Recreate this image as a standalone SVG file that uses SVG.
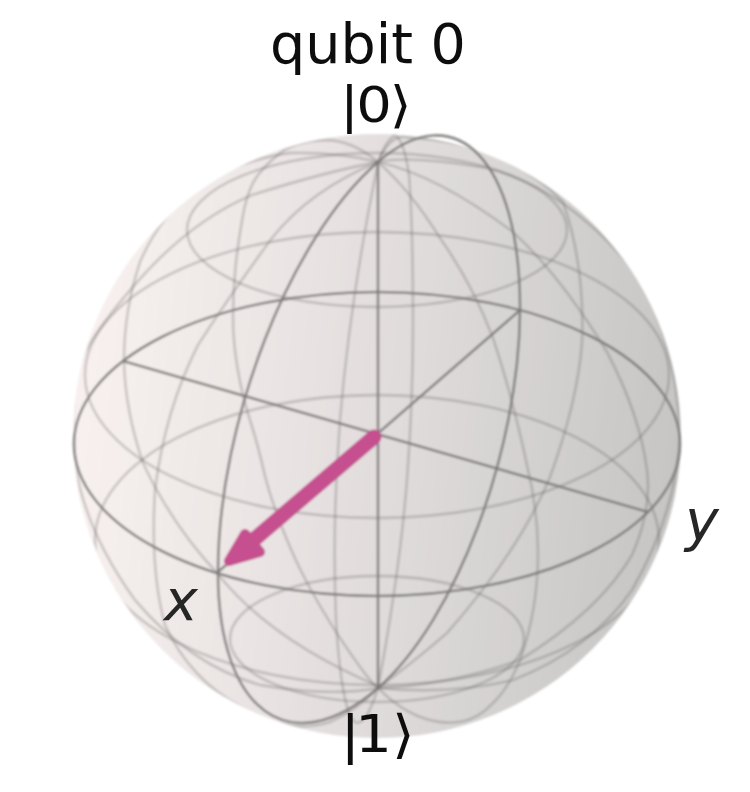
<svg xmlns="http://www.w3.org/2000/svg" width="750" height="792" viewBox="0 0 750 792">
<style>
.w{fill:none;stroke:#5c5a5a;stroke-opacity:.26;stroke-width:2.8}
.a{fill:none;stroke:#7b7978;stroke-opacity:.88;stroke-width:2.6}
.t{font-family:"DejaVu Sans",sans-serif;fill:#111}
.i{font-family:"DejaVu Sans",sans-serif;font-style:italic;font-size:57px;fill:#262626}
</style>
<defs>
<linearGradient id="shade" gradientUnits="userSpaceOnUse" x1="74" y1="400" x2="680" y2="470">
<stop offset="0" stop-color="#f8f1ef"/><stop offset=".35" stop-color="#e9e4e3"/><stop offset=".6" stop-color="#dcd9d8"/><stop offset="1" stop-color="#c6c5c3"/>
</linearGradient>
<clipPath id="ball"><ellipse cx="377" cy="436" rx="303" ry="302"/></clipPath>
<filter id="soft" x="-5%" y="-5%" width="110%" height="110%"><feGaussianBlur stdDeviation=".9"/></filter>
<filter id="softer" x="-5%" y="-5%" width="110%" height="110%"><feGaussianBlur stdDeviation=".6"/></filter>
</defs>
<rect width="750" height="792" fill="#fff"/>
<g id="sphere" filter="url(#soft)">
<ellipse cx="377" cy="436" rx="304" ry="302" fill="url(#shade)"/>
<g id="wireframe" clip-path="url(#ball)">
<ellipse class="w" cx="377" cy="230" rx="190" ry="77"/>
<ellipse class="w" cx="377" cy="375" rx="292" ry="143"/>
<ellipse class="w" cx="377" cy="540" rx="282" ry="145"/>
<ellipse class="w" cx="377" cy="639" rx="147" ry="63"/>
<path class="w" d="M378 162Q352 140 325 140Q298 141 283 151Q268 162 258 175Q248 188 243 215Q238 242 235.500 267Q233 292 233 317Q233 342 237.500 368Q242 395 250 420Q258 445 265 476Q273 507 290 547Q307 587 338 635Q370 683 378 688"/>
<path class="w" d="M378 688Q408 718 440 722Q470 726 490 706Q508 690 520 660Q538 610 538 553Q538 510 527 465Q512 395 493 338Q473 285 440 238Q410 190 378 162"/>
<path class="w" d="M378 162Q386 140 395 135Q404 140 409 175Q413 225 413 325Q413 400 407 480Q400 570 378 688"/>
<path class="w" d="M378 162Q350 300 340 420Q332 520 336 620Q340 690 350 716Q362 738 378 688"/>
<path class="w" d="M378 162Q338 152 290 153Q240 160 200 185Q160 215 140 262Q124 310 124 361Q125 410 143 463Q172 525 217 573Q270 640 378 686"/>
<path class="w" d="M378 162Q437 175 513 232Q560 275 607 352Q640 415 647 470Q652 510 632 555Q600 610 520 660Q450 685 378 688"/>
<path class="w" d="M378 162Q310 190 272 238Q230 295 198 345Q165 410 155 490Q150 570 165 625Q190 680 243 708Q290 735 330 722Q360 708 378 688"/>
<path class="w" d="M378 162Q390 135 405 137Q450 140 487 152Q535 172 563 202Q585 265 582 342Q578 400 550 477Q520 550 447 633Q410 665 378 688"/>
<path class="w" d="M378 162Q325 172 252 195Q188 222 132 288Q100 325 85 352Q68 400 76 470Q88 535 135 600Q190 665 260 685Q330 697 378 688"/>
<path class="w" d="M378 162Q410 155 487 168Q570 190 637 275Q675 340 680 430Q678 510 632 590Q590 650 513 680Q450 695 378 688"/>
</g>
<g id="axes">
<ellipse class="a" cx="377" cy="444" rx="303" ry="152"/>
<path class="a" d="M378 162C456 94 521 161 520 311C519 451 456 620 378 688C290 764 218 712 218 572C218 422 290 238 378 162Z"/>
<path class="a" d="M378 162V688M218 572L519 311M123 361L648 512"/>
</g>
<g id="state-vector">
<path d="M374 437L250 543" fill="none" stroke="#c5508f" stroke-width="15" stroke-linecap="round"/>
<path d="M229 561L245 534L260 552Z" fill="#c5508f" stroke="#c5508f" stroke-width="10" stroke-linejoin="round"/>
</g>
</g>
<g id="labels" filter="url(#softer)">
<text class="t" x="368" y="63" font-size="55.500" text-anchor="middle">qubit 0</text>
<text class="t" transform="scale(1.12 1)" x="303.500 318 348" y="122" font-size="50">|0⟩</text>
<text class="t" transform="scale(1.12 1)" x="304 317 350" y="752" font-size="52">|1⟩</text>
<text class="i" x="164" y="620">x</text>
<text class="i" x="685" y="540">y</text>
</g>
</svg>
